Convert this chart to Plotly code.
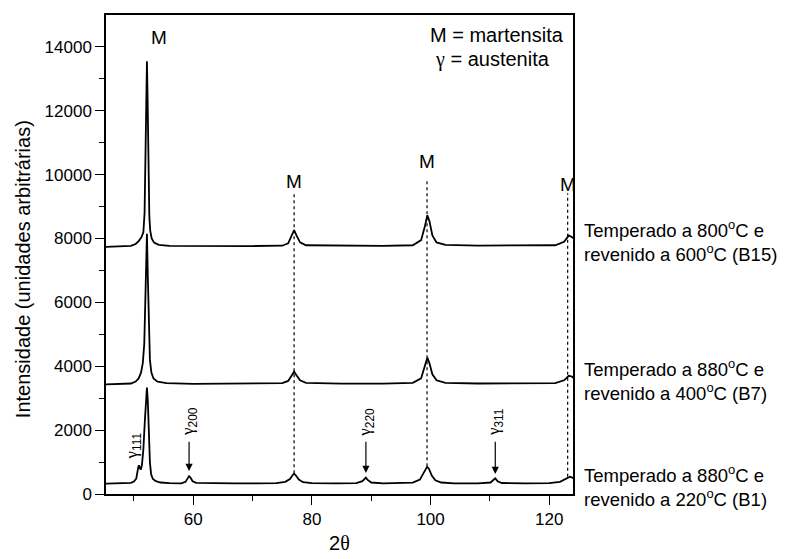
import plotly.graph_objects as go

# ---------------- data ----------------
b1_x = [45.0, 47.0, 48.5, 49.5, 50.0, 50.4, 50.7, 50.85, 51.0, 51.15, 51.35, 51.6, 51.85, 52.05, 52.2,
        52.35, 52.5, 52.7, 52.9, 53.2, 53.7, 54.5, 56.0, 58.0, 58.7, 59.1, 59.3, 59.5, 59.9, 60.5,
        63.0, 67.0, 71.0, 74.0, 75.5, 76.3, 76.8, 77.0, 77.3, 77.8, 78.5, 80.0, 84.0, 87.5, 88.5,
        88.9, 89.1, 89.4, 90.0, 92.0, 95.0, 97.0, 98.2, 98.9, 99.4, 99.7, 100.2, 100.8, 101.8, 104.0,
        108.0, 110.1, 110.6, 110.9, 111.3, 112.0, 116.0, 120.0, 121.8, 122.8, 123.5, 124.0, 124.3]
b1_y = [320, 325, 330, 350, 390, 480, 800, 900, 820, 760, 900, 1400, 2300, 3100, 3330,
        2900, 1900, 1000, 620, 470, 400, 360, 340, 335, 380, 500, 560, 520, 400, 350,
        335, 330, 330, 340, 380, 470, 600, 640, 580, 450, 370, 340, 333, 340, 400,
        490, 510, 440, 360, 335, 335, 355, 450, 700, 850, 800, 580, 430, 360, 335,
        335, 360, 460, 490, 400, 345, 335, 340, 380, 480, 540, 500, 470]

b7_x = [45.0, 48.0, 49.5, 50.3, 50.8, 51.2, 51.5, 51.75, 51.9, 52.05, 52.2, 52.35, 52.5, 52.7, 52.95,
        53.3, 54.0, 55.5, 60.0, 66.0, 72.0, 75.0, 76.0, 76.6, 77.0, 77.4, 78.0, 79.0, 85.0, 92.0,
        97.0, 98.4, 99.0, 99.45, 99.8, 100.3, 101.0, 102.5, 108.0, 115.0, 121.0, 122.5, 123.3, 123.8, 124.3]
b7_y = [3430, 3440, 3460, 3520, 3620, 3800, 4100, 4700, 5800, 7200, 8150, 6800, 5200, 4200, 3800,
        3620, 3520, 3470, 3450, 3450, 3455, 3470, 3540, 3720, 3830, 3720, 3560, 3480, 3455, 3455,
        3480, 3620, 3950, 4270, 4100, 3750, 3560, 3480, 3460, 3460, 3470, 3560, 3700, 3680, 3600]

b15_x = [45.0, 48.0, 49.5, 50.3, 50.8, 51.3, 51.6, 51.8, 51.95, 52.1, 52.2, 52.3, 52.45, 52.6, 52.75,
         53.0, 53.4, 54.2, 56.0, 62.0, 70.0, 75.0, 76.0, 76.6, 77.0, 77.4, 78.0, 79.0, 85.0, 92.0,
         97.0, 98.4, 99.0, 99.45, 99.8, 100.3, 101.0, 102.5, 108.0, 115.0, 121.0, 122.5, 123.3, 123.8, 124.3]
b15_y = [7740, 7750, 7770, 7830, 7920, 8050, 8200, 8800, 10500, 12800, 13550, 12500, 10000, 8700, 8250,
         8000, 7870, 7800, 7770, 7760, 7765, 7775, 7850, 8100, 8260, 8100, 7880, 7790, 7770, 7770,
         7790, 7950, 8350, 8730, 8550, 8100, 7880, 7800, 7780, 7780, 7790, 7900, 8100, 8050, 7980]

series_x = [b1_x, b7_x, b15_x]
series_y = [b1_y, b7_y, b15_y]
series_labels = [
    "Temperado a 880<sup>o</sup>C e<br>revenido a 220<sup>o</sup>C (B1)",
    "Temperado a 880<sup>o</sup>C e<br>revenido a 400<sup>o</sup>C (B7)",
    "Temperado a 800<sup>o</sup>C e<br>revenido a 600<sup>o</sup>C (B15)",
]
series_label_y = [250, 3555, 7920]

# martensite marker lines (position, bottom, top) and "M" labels
m_line_x = [77.0, 99.4, 123.1]
m_line_bottom = [650, 870, 540]
m_line_top = [9420, 9890, 9420]
m_label_x = [54.3, 77.0, 99.4, 123.1]
m_label_y = [14310, 9790, 10420, 9700]

# austenite labels
GAM = '<span style="font-family:Liberation Serif, serif">γ</span>'
g_x = [59.3, 89.1, 110.9]
g_label = [GAM + "<sub>200</sub>", GAM + "<sub>220</sub>", GAM + "<sub>311</sub>"]
g_text_y = [2260, 2260, 2260]
g_arrow_tail = [1680, 1680, 1680]
g_arrow_head = [720, 660, 630]
g111_x = 49.9
g111_y = 1500

x_ticks = [60, 80, 100, 120]
y_ticks = [0, 2000, 4000, 6000, 8000, 10000, 12000, 14000]

FONT = "Arial, Liberation Sans, sans-serif"

fig = go.Figure()
for xs, ys in zip(series_x, series_y):
    fig.add_trace(go.Scatter(x=xs, y=ys, mode="lines",
                             line=dict(color="black", width=1.8), showlegend=False,
                             hoverinfo="skip"))

for xv, y0, y1 in zip(m_line_x, m_line_bottom, m_line_top):
    fig.add_shape(type="line", x0=xv, x1=xv, y0=y0, y1=y1, xref="x", yref="y",
                  line=dict(color="black", width=1.2, dash="dot"), layer="below")

for xv, yv in zip(m_label_x, m_label_y):
    fig.add_annotation(x=xv, y=yv, xref="x", yref="y", text="M", showarrow=False,
                       font=dict(family=FONT, size=19, color="black"))

for xv, lab, ty, tail, head in zip(g_x, g_label, g_text_y, g_arrow_tail, g_arrow_head):
    fig.add_annotation(x=xv, y=ty, xref="x", yref="y", text=lab, showarrow=False,
                       textangle=-90, font=dict(family=FONT, size=17, color="black"))
    fig.add_annotation(x=xv, y=head, ax=xv, ay=tail, xref="x", yref="y", axref="x", ayref="y",
                       text="", showarrow=True, arrowhead=2, arrowsize=1.2, arrowwidth=1.2,
                       arrowcolor="black")
fig.add_annotation(x=g111_x, y=g111_y, xref="x", yref="y", text=GAM + "<sub>111</sub>",
                   showarrow=False, textangle=-90, font=dict(family=FONT, size=17, color="black"))

for lab, yv in zip(series_labels, series_label_y):
    fig.add_annotation(x=1.019, y=yv, xref="paper", yref="y", text=lab, showarrow=False,
                       xanchor="left", yanchor="middle", align="left",
                       font=dict(family=FONT, size=18.5, color="black"))

fig.add_annotation(x=99.6, y=14380, xref="x", yref="y", text="M = martensita", showarrow=False,
                   xanchor="left", font=dict(family=FONT, size=20, color="black"))
fig.add_annotation(x=100.4, y=13620, xref="x", yref="y", text=GAM + " = austenita", showarrow=False,
                   xanchor="left", font=dict(family=FONT, size=20, color="black"))

fig.add_annotation(x=-0.205, y=0.47, xref="paper", yref="paper",
                   text="Intensidade (unidades arbitrárias)", showarrow=False, textangle=-90,
                   font=dict(family=FONT, size=20, color="black"))
fig.add_annotation(x=0.5, y=-0.103, xref="paper", yref="paper",
                   text='2<span style="font-family:Liberation Serif, serif">θ</span>',
                   showarrow=False, yanchor="middle", font=dict(family=FONT, size=20, color="black"))

axis_common = dict(showline=True, linecolor="black", linewidth=1.5, mirror=True,
                   ticks="outside", ticklen=9, tickwidth=1.3, tickcolor="black",
                   showgrid=False, zeroline=False,
                   tickfont=dict(family=FONT, size=17, color="black"))
fig.update_xaxes(range=[45.3, 124.0], tickvals=x_ticks, tickformat="d",
                 minor=dict(tickvals=[50, 70, 90, 110], ticklen=5, tickcolor="black", ticks="outside"),
                 **axis_common)
fig.update_yaxes(range=[0, 15000], tickvals=y_ticks, tickformat="d",
                 minor=dict(tickvals=[1000, 3000, 5000, 7000, 9000, 11000, 13000],
                            ticklen=5, tickcolor="black", ticks="outside"),
                 **axis_common)

fig.update_layout(width=778, height=551, plot_bgcolor="white", paper_bgcolor="white",
                  margin=dict(l=98, r=213, t=5, b=65), showlegend=False)

fig.write_html("out.html")
